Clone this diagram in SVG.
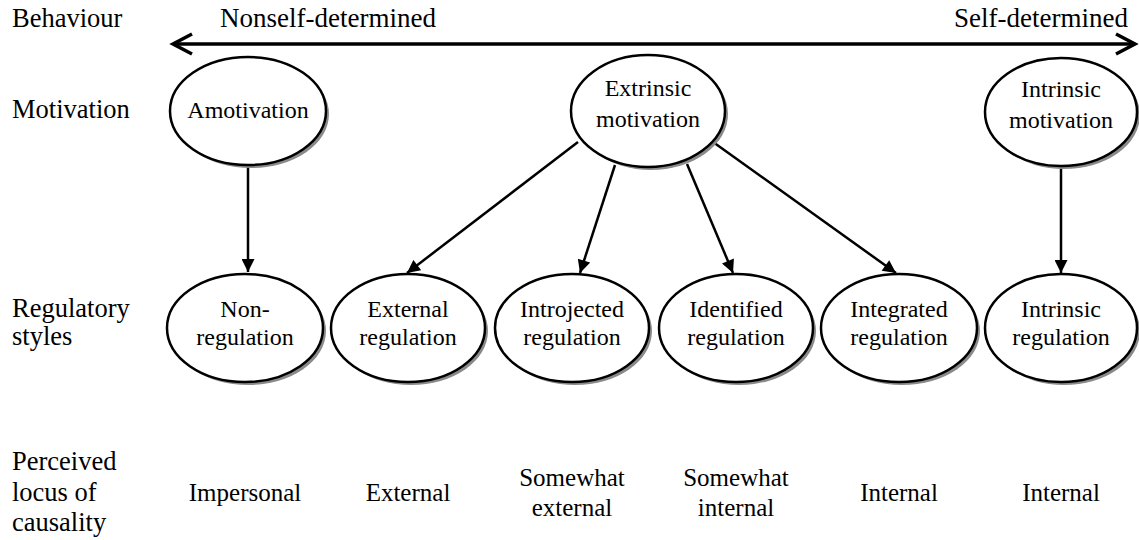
<svg xmlns="http://www.w3.org/2000/svg" width="1139" height="540" viewBox="0 0 1139 540">
  <style>
    text { font-family: "Liberation Serif", "Times New Roman", serif; font-size: 24px; fill: #000; }
    .lbl { font-size: 26.5px; }
    .top { font-size: 27px; }
    .loc { font-size: 25px; text-anchor: middle; }
    .c { text-anchor: middle; }
    .shadow { fill: #8a8a8a; stroke: none; }
    .node { fill: #fff; stroke: #000; stroke-width: 2.5; }
    .edge { stroke: #000; stroke-width: 2.5; fill: none; }
    .axis { stroke: #000; stroke-width: 3.5; fill: none; }
  </style>
  <defs>
    <marker id="tri" viewBox="0 0 10 10" refX="10" refY="5" markerWidth="14" markerHeight="13" markerUnits="userSpaceOnUse" orient="auto">
      <path d="M0,0 L10,5 L0,10 z" fill="#000"/>
    </marker>
  </defs>

  <!-- row labels -->
  <g id="row-labels">
    <text class="lbl" x="12" y="27">Behaviour</text>
    <text class="lbl" x="12" y="118">Motivation</text>
    <text class="lbl" x="12" y="317">Regulatory</text>
    <text class="lbl" x="12" y="345">styles</text>
    <text class="lbl" x="12" y="470">Perceived</text>
    <text class="lbl" x="12" y="501">locus of</text>
    <text class="lbl" x="12" y="531">causality</text>
  </g>

  <!-- behaviour continuum -->
  <g id="continuum">
    <text class="top" x="220" y="27">Nonself-determined</text>
    <text class="top" x="1128" y="27" text-anchor="end">Self-determined</text>
    <line class="axis" x1="174" y1="44" x2="1134" y2="44"/>
    <polyline class="axis" points="192,34 173,44 192,54"/>
    <polyline class="axis" points="1116,34 1135,44 1116,54"/>
  </g>

  <!-- connectors -->
  <g id="connectors">
    <line class="edge" x1="248" y1="166" x2="248" y2="272" marker-end="url(#tri)"/>
    <line class="edge" x1="578" y1="142" x2="407" y2="273" marker-end="url(#tri)"/>
    <line class="edge" x1="615" y1="165" x2="580" y2="273" marker-end="url(#tri)"/>
    <line class="edge" x1="687" y1="164" x2="733" y2="273" marker-end="url(#tri)"/>
    <line class="edge" x1="713" y1="142" x2="896" y2="273" marker-end="url(#tri)"/>
    <line class="edge" x1="1061" y1="166" x2="1061" y2="273" marker-end="url(#tri)"/>
  </g>

  <!-- motivation nodes -->
  <g id="amotivation">
    <ellipse class="shadow" cx="251" cy="114" rx="78" ry="54"/>
    <ellipse class="node" cx="248" cy="111" rx="78" ry="54"/>
    <text class="c" x="248" y="118">Amotivation</text>
  </g>
  <g id="extrinsic-motivation">
    <ellipse class="shadow" cx="651" cy="114" rx="77" ry="56"/>
    <ellipse class="node" cx="648" cy="111" rx="77" ry="56"/>
    <text class="c" x="648" y="96">Extrinsic</text>
    <text class="c" x="648" y="127">motivation</text>
  </g>
  <g id="intrinsic-motivation">
    <ellipse class="shadow" cx="1064" cy="115" rx="76" ry="54"/>
    <ellipse class="node" cx="1061" cy="112" rx="76" ry="54"/>
    <text class="c" x="1061" y="97">Intrinsic</text>
    <text class="c" x="1061" y="128">motivation</text>
  </g>

  <!-- regulatory style nodes -->
  <g id="non-regulation">
    <ellipse class="shadow" cx="248" cy="331" rx="78" ry="54"/>
    <ellipse class="node" cx="245" cy="328" rx="78" ry="54"/>
    <text class="c" x="245" y="317">Non-</text>
    <text class="c" x="245" y="345">regulation</text>
  </g>
  <g id="external-regulation">
    <ellipse class="shadow" cx="411" cy="331" rx="77" ry="54"/>
    <ellipse class="node" cx="408" cy="328" rx="77" ry="54"/>
    <text class="c" x="408" y="317">External</text>
    <text class="c" x="408" y="345">regulation</text>
  </g>
  <g id="introjected-regulation">
    <ellipse class="shadow" cx="575" cy="331" rx="77" ry="54"/>
    <ellipse class="node" cx="572" cy="328" rx="77" ry="54"/>
    <text class="c" x="572" y="317">Introjected</text>
    <text class="c" x="572" y="345">regulation</text>
  </g>
  <g id="identified-regulation">
    <ellipse class="shadow" cx="739" cy="331" rx="77" ry="54"/>
    <ellipse class="node" cx="736" cy="328" rx="77" ry="54"/>
    <text class="c" x="736" y="317">Identified</text>
    <text class="c" x="736" y="345">regulation</text>
  </g>
  <g id="integrated-regulation">
    <ellipse class="shadow" cx="902" cy="331" rx="78" ry="54"/>
    <ellipse class="node" cx="899" cy="328" rx="78" ry="54"/>
    <text class="c" x="899" y="317">Integrated</text>
    <text class="c" x="899" y="345">regulation</text>
  </g>
  <g id="intrinsic-regulation">
    <ellipse class="shadow" cx="1064" cy="331" rx="76" ry="54"/>
    <ellipse class="node" cx="1061" cy="328" rx="76" ry="54"/>
    <text class="c" x="1061" y="317">Intrinsic</text>
    <text class="c" x="1061" y="345">regulation</text>
  </g>

  <!-- perceived locus of causality -->
  <g id="locus">
    <text class="loc" x="245" y="501">Impersonal</text>
    <text class="loc" x="408" y="501">External</text>
    <text class="loc" x="572" y="486">Somewhat</text>
    <text class="loc" x="572" y="516">external</text>
    <text class="loc" x="736" y="486">Somewhat</text>
    <text class="loc" x="736" y="516">internal</text>
    <text class="loc" x="899" y="501">Internal</text>
    <text class="loc" x="1061" y="501">Internal</text>
  </g>
</svg>
